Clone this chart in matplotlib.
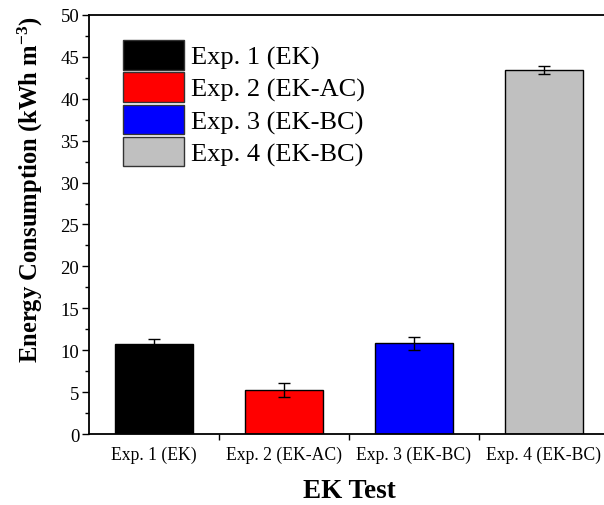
import matplotlib
matplotlib.use("Agg")
import matplotlib.pyplot as plt
from matplotlib.patches import Patch

categories = ["Exp. 1 (EK)", "Exp. 2 (EK-AC)", "Exp. 3 (EK-BC)", "Exp. 4 (EK-BC)"]
values = [10.75, 5.25, 10.8, 43.45]
errors = [0.55, 0.8, 0.75, 0.45]
colors = ["#000000", "#ff0000", "#0000ff", "#c0c0c0"]

plt.rcParams['font.family'] = ['Liberation Serif', 'DejaVu Serif']
plt.rcParams['mathtext.fontset'] = 'custom'
plt.rcParams['mathtext.rm'] = 'Liberation Serif'
plt.rcParams['mathtext.bf'] = 'Liberation Serif:bold'
plt.rcParams['mathtext.it'] = 'Liberation Serif:italic'

fig = plt.figure(figsize=(6.04, 5.06), dpi=100)
ax = fig.add_axes([89/604, 1-435/506, (609-89)/604, (435-16)/506])

x = list(range(1, len(categories) + 1))
ax.bar(x, values, width=0.6, color=colors, edgecolor="black", linewidth=1.0,
       yerr=errors, capsize=4, error_kw=dict(elinewidth=1, capthick=1, ecolor="black"))

ax.set_xlim(0.5, 4.5)
ax.set_ylim(0, 50)
ax.set_yticks(range(0, 51, 5))
ax.set_yticks([i + 2.5 for i in range(0, 50, 5)], minor=True)
ax.set_xticks([1.5, 2.5, 3.5])
ax.set_xticklabels([])
for xi, lab in zip(x, categories):
    ax.text(xi, -1.35, lab, ha="center", va="top", fontsize=12.7,
            transform=ax.transData)

ax.tick_params(axis="y", which="major", direction="out", length=5, width=1, labelsize=13.5, pad=2)
ax.tick_params(axis="y", which="minor", direction="out", length=3, width=1)
ax.tick_params(axis="x", which="major", direction="out", length=4, width=1)
ax.spines["right"].set_visible(False)
for s in ["left", "bottom", "top"]:
    ax.spines[s].set_linewidth(1.3)

ax.set_ylabel("Energy Consumption (kWh m$^{\\mathbf{-3}}$)", fontsize=17.7, fontweight="bold")
ax.yaxis.set_label_coords(-0.084, (435-190)/419)
ax.set_xlabel("EK Test", fontsize=19.5, fontweight="bold", labelpad=24)

handles = [Patch(facecolor=c, edgecolor="#333333", linewidth=1) for c in colors]
ax.legend(handles, categories, loc="upper left", bbox_to_anchor=(34/520, 1-(41-16)/419),
          frameon=False, fontsize=19, handlelength=2.3, handleheight=1.35,
          handletextpad=0.27, labelspacing=0.1, borderaxespad=0, borderpad=0)

fig.savefig("out.png", dpi=100)
